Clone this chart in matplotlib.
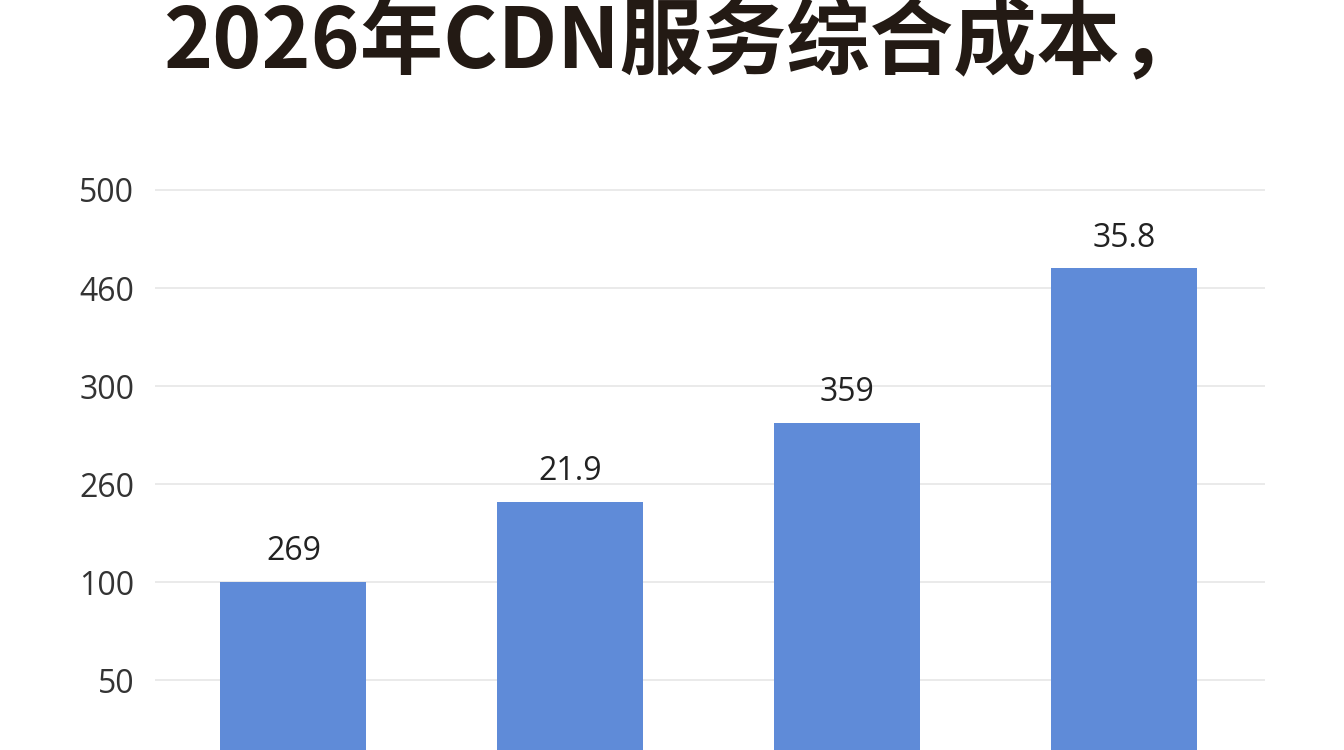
import numpy as np
import matplotlib.pyplot as plt

plt.rcParams['font.family'] = ['Noto Sans CJK SC', 'DejaVu Sans']

# 数据
categories = ['A', 'B', 'C', 'D']
values = [100, 231, 285, 468]
bar_labels = ['269', '21.9', '359', '35.8']
tick_values = [50, 100, 260, 300, 460, 500]

# 非线性刻度：刻度之间等距
anchor_v = np.array([0] + tick_values + [540], dtype=float)
anchor_p = np.arange(len(anchor_v), dtype=float) - 1


def forward(v):
    return np.interp(v, anchor_v, anchor_p)


def inverse(p):
    return np.interp(p, anchor_p, anchor_v)


fig = plt.figure(figsize=(13.44, 7.5), dpi=100)
ax = fig.add_axes([155 / 1344, 0, (1265 - 155) / 1344, 570 / 750])
ax.set_yscale('function', functions=(forward, inverse))

x = np.arange(len(categories))
bars = ax.bar(x, values, width=0.527, color='#5f8bd8', zorder=2)

for b, lab in zip(bars, bar_labels):
    ax.annotate(lab, (b.get_x() + b.get_width() / 2, b.get_height()),
                xytext=(0, 10), textcoords='offset points',
                ha='center', va='bottom', fontsize=23, color='#222222',
                family='Open Sans')

ax.set_xlim(-0.5, 3.51)
ax.set_ylim(inverse(-0.714), inverse(5.102))
ax.set_yticks(tick_values)
ax.set_yticklabels([str(t) for t in tick_values])
ax.yaxis.set_minor_locator(plt.NullLocator())
ax.set_xticks([])
ax.tick_params(axis='y', length=0, pad=15, labelsize=23, labelcolor='#333333')
for lab in ax.get_yticklabels():
    lab.set_family('Open Sans')
ax.grid(axis='y', color='#e6e6e6', linewidth=1.2, zorder=0)
for s in ax.spines.values():
    s.set_visible(False)

# 标题
fig.text(163 / 1344, 1 - 68 / 750, '2026年CDN服务综合成本，',
         fontsize=60, fontweight='bold', color='#231a14',
         ha='left', va='baseline')

fig.savefig('out.png', dpi=100, facecolor='white')
